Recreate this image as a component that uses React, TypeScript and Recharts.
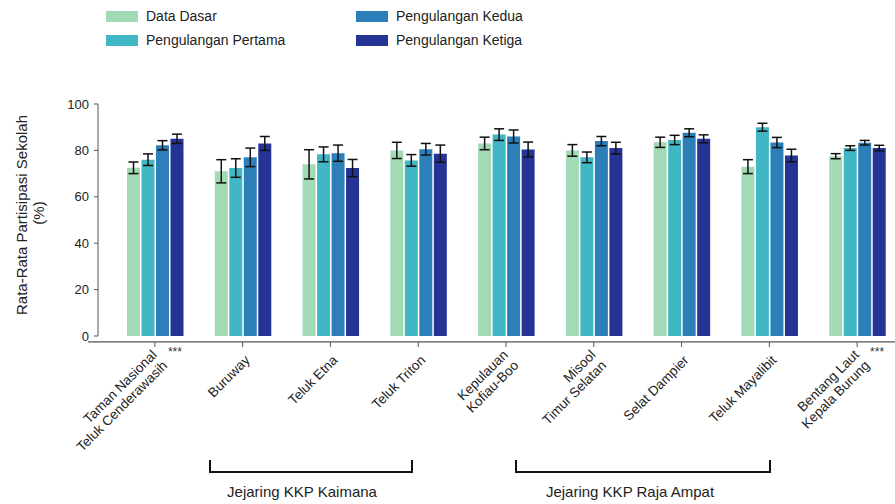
import { BarChart, Bar, XAxis, YAxis, ErrorBar, ReferenceLine } from 'recharts';

const categories = [
  'Taman Nasional\nTeluk Cenderawasih',
  'Buruway',
  'Teluk Etna',
  'Teluk Triton',
  'Kepulauan\nKofiau-Boo',
  'Misool\nTimur Selatan',
  'Selat Dampier',
  'Teluk Mayalibit',
  'Bentang Laut\nKepala Burung',
];
const significance = ['***', '', '', '', '', '', '', '', '***'];

const seriesNames = ['Data Dasar', 'Pengulangan Pertama', 'Pengulangan Kedua', 'Pengulangan Ketiga'];
const seriesColors = ['#a1dab4', '#41b6c4', '#2c7fb8', '#253494'];

const dataDasar = [72.5, 71, 74, 80, 83, 80, 83.5, 73, 77.5];
const dataDasarErr = [2.5, 5, 6.3, 3.5, 2.7, 2.5, 2.2, 3, 1.1];
const pertama = [76, 72.4, 78.3, 75.7, 86.8, 77, 84.5, 90, 81];
const pertamaErr = [2.5, 4, 3.2, 2.5, 2.5, 2.3, 2, 1.7, 1];
const kedua = [82.2, 77, 78.8, 80.5, 86, 84, 87.6, 83.4, 83.3];
const keduaErr = [2, 4, 3.5, 2.5, 2.8, 2, 1.7, 2.2, 1];
const ketiga = [85, 83, 72.4, 78.6, 80.4, 81, 85, 77.8, 81];
const ketigaErr = [2, 3, 3.7, 3.7, 3.2, 2.5, 1.7, 2.7, 1.2];

const yTicks = [0, 20, 40, 60, 80, 100];

const networks = [
  { name: 'Jejaring KKP Kaimana', x1: 210, x2: 412, textX: 302 },
  { name: 'Jejaring KKP Raja Ampat', x1: 516, x2: 770, textX: 630 },
];

const values = [dataDasar, pertama, kedua, ketiga];
const errors = [dataDasarErr, pertamaErr, keduaErr, ketigaErr];

const data = categories.map((name, i) => {
  const row: Record<string, string | number> = { name };
  values.forEach((v, s) => {
    row[`s${s}`] = v[i];
    row[`e${s}`] = errors[s][i];
  });
  return row;
});

const FONT = '"Liberation Sans", Arial, sans-serif';
const AXIS = '#555';

function CategoryTick(props: any) {
  const { x, y, payload } = props;
  const idx = categories.indexOf(payload.value);
  const lines = String(payload.value).split('\n');
  const ax = x + 8;
  const ay = y + 25;
  const lh = 15;
  return (
    <g>
      <line x1={x} x2={x} y1={y + 6} y2={y + 11} stroke={AXIS} />
      {significance[idx] && (
        <text x={x + 20} y={y + 20} textAnchor="middle" fontSize={12} fill="#333" fontFamily={FONT}>
          {significance[idx]}
        </text>
      )}
      <text
        transform={`rotate(-45 ${ax} ${ay})`}
        x={ax}
        y={ay}
        textAnchor="end"
        fontSize={13.5}
        fill="#222"
        fontFamily={FONT}
      >
        {lines.map((l, i) => (
          <tspan key={i} x={ax} dy={i === 0 ? (-(lines.length - 1) / 2) * lh : lh}>
            {l}
          </tspan>
        ))}
      </text>
    </g>
  );
}

function Overlay() {
  const legendCols = [106, 356];
  const legendRows = [11, 35];
  return (
    <svg
      width={895}
      height={504}
      style={{ position: 'absolute', left: 0, top: 0, pointerEvents: 'none' }}
      fontFamily={FONT}
    >
      {seriesNames.map((n, i) => {
        const lx = legendCols[Math.floor(i / 2)];
        const ly = legendRows[i % 2];
        return (
          <g key={n}>
            <rect x={lx} y={ly} width={32} height={11} fill={seriesColors[i]} />
            <text x={lx + 40} y={ly + 10} fontSize={14} fill="#222">
              {n}
            </text>
          </g>
        );
      })}
      <text transform="rotate(-90 27 215)" x={27} y={215} textAnchor="middle" fontSize={15} fill="#222">
        Rata-Rata Partisipasi Sekolah
      </text>
      <text transform="rotate(-90 44 213)" x={44} y={213} textAnchor="middle" fontSize={15} fill="#222">
        (%)
      </text>
      {networks.map((g) => (
        <g key={g.name}>
          <path
            d={`M${g.x1},460 L${g.x1},472 L${g.x2},472 L${g.x2},460`}
            fill="none"
            stroke="#111"
            strokeWidth={2}
          />
          <text x={g.textX} y={497} textAnchor="middle" fontSize={15} fill="#222">
            {g.name}
          </text>
        </g>
      ))}
    </svg>
  );
}

export default function App() {
  return (
    <div
      style={{
        position: 'absolute',
        left: 0,
        top: 0,
        width: 895,
        height: 504,
        overflow: 'hidden',
        background: '#fff',
      }}
    >
      <BarChart
        width={905}
        height={504}
        data={data}
        margin={{ top: 104, right: 4, bottom: 0, left: 38 }}
        barCategoryGap={16}
        barGap={1.5}
      >
        <XAxis
          xAxisId="cat"
          dataKey="name"
          interval={0}
          padding={{ left: 13, right: 0 }}
          height={168}
          axisLine={false}
          tickLine={false}
          tickSize={0}
          tickMargin={0}
          tick={<CategoryTick />}
        />
        <XAxis xAxisId="pos" type="number" domain={[0, 9]} padding={{ left: 13, right: 0 }} hide allowDataOverflow />
        <YAxis
          domain={[0, 100]}
          ticks={yTicks}
          width={60}
          tickSize={4}
          tickMargin={5}
          axisLine={{ stroke: AXIS }}
          tickLine={{ stroke: AXIS }}
          tick={{ fontSize: 13, fill: '#222', fontFamily: FONT }}
          allowDataOverflow
        />
        {seriesNames.map((n, s) => (
          <Bar key={n} xAxisId="cat" dataKey={`s${s}`} name={n} fill={seriesColors[s]} isAnimationActive={false}>
            <ErrorBar dataKey={`e${s}`} width={5} stroke="#111" strokeWidth={1.5} direction="y" />
          </Bar>
        ))}
        <ReferenceLine
          xAxisId="cat"
          y={-2.5}
          ifOverflow="visible"
          stroke={AXIS}
          shape={(p: any) => <line x1={p.x1 - 10} y1={p.y1} x2={p.x2} y2={p.y2} stroke={AXIS} strokeWidth={1.3} />}
        />
        <ReferenceLine xAxisId="pos" x={8.03} stroke="#aaa" strokeDasharray="8 5" strokeWidth={1.2} />
      </BarChart>
      <Overlay />
    </div>
  );
}
